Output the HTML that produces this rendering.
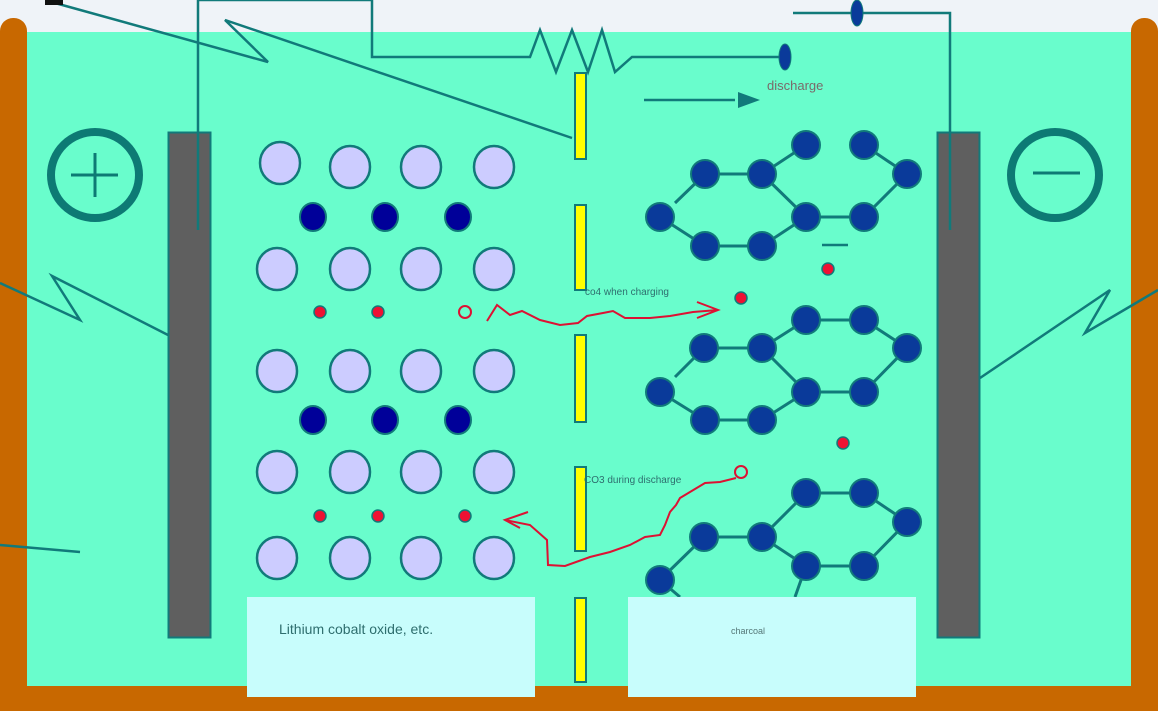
<!DOCTYPE html>
<html><head><meta charset="utf-8"><style>html,body{margin:0;padding:0;background:#eff3f8}svg{display:block}</style></head>
<body>
<svg width="1158" height="711" viewBox="0 0 1158 711" xmlns="http://www.w3.org/2000/svg" font-family="Liberation Sans, sans-serif">
<rect x="0" y="0" width="1158" height="711" fill="#eff3f8"/>
<rect x="0" y="32" width="1158" height="679" fill="#69fdcc"/>
<!-- container walls -->
<rect x="0" y="18" width="27" height="693" rx="13" fill="#c86800"/>
<rect x="1131" y="18" width="27" height="693" rx="13" fill="#c86800"/>
<rect x="0" y="686" width="1158" height="25" fill="#c86800"/>
<!-- boxes -->
<rect x="247" y="597" width="288" height="100" fill="#c8fdfc"/>
<rect x="628" y="597" width="288" height="100" fill="#c8fdfc"/>
<text x="279" y="634" font-size="14" fill="#2e6e6e">Lithium cobalt oxide, etc.</text>
<text x="731" y="634" font-size="9" fill="#557777">charcoal</text>
<!-- electrodes -->
<rect x="168.5" y="132.5" width="42" height="505" fill="#5f5f5f" stroke="#117a7a" stroke-width="2"/>
<rect x="937.5" y="132.5" width="42" height="505" fill="#5f5f5f" stroke="#117a7a" stroke-width="2"/>
<!-- plus/minus -->
<g stroke="#0d7a74" fill="none">
<ellipse cx="95" cy="175" rx="44" ry="43" stroke-width="8"/>
<line x1="71" y1="175" x2="118" y2="175" stroke-width="3"/>
<line x1="95" y1="153" x2="95" y2="197" stroke-width="3"/>
<ellipse cx="1055" cy="175" rx="44" ry="43" stroke-width="8"/>
<line x1="1033" y1="173" x2="1080" y2="173" stroke-width="3"/>
</g>
<!-- wires -->
<g stroke="#117a7a" stroke-width="2.5" fill="none">
<polyline points="198,230 198,0 372,0 372,57 530,57 540,30 556,72 572,30 588,72 602,30 615,72 632,57 785,57"/>
<polyline points="793,13 950,13 950,230"/>
<polyline points="55,3 268,62 225,20 572,138"/>
<polyline points="0,283 80,320 52,276 168,335"/>
<polyline points="980,378 1110,290 1085,333 1158,290"/>
<line x1="0" y1="545" x2="80" y2="552"/>
<line x1="644" y1="100" x2="735" y2="100"/>
<line x1="822" y1="245" x2="848" y2="245"/>
</g>
<polygon points="760,100 738,92 738,108" fill="#117a7a"/>
<rect x="45" y="0" width="18" height="5" fill="#111"/>
<ellipse cx="785" cy="57" rx="6" ry="13" fill="#0a3a9a" stroke="#117a7a"/>
<ellipse cx="857" cy="13" rx="6" ry="13" fill="#0a3a9a" stroke="#117a7a"/>
<text x="767" y="90" font-size="13" fill="#7a6a6a">discharge</text>
<!-- separators -->
<g fill="#ffff00" stroke="#117a7a" stroke-width="2">
<rect x="575" y="73" width="11" height="86"/>
<rect x="575" y="205" width="11" height="85"/>
<rect x="575" y="335" width="11" height="87"/>
<rect x="575" y="467" width="11" height="84"/>
<rect x="575" y="598" width="11" height="84"/>
</g>
<!-- lattice -->
<g fill="#ccccff" stroke="#117a7a" stroke-width="2.5">
<ellipse cx="280" cy="163" rx="20" ry="21"/><ellipse cx="350" cy="167" rx="20" ry="21"/><ellipse cx="421" cy="167" rx="20" ry="21"/><ellipse cx="494" cy="167" rx="20" ry="21"/>
<ellipse cx="277" cy="269" rx="20" ry="21"/><ellipse cx="350" cy="269" rx="20" ry="21"/><ellipse cx="421" cy="269" rx="20" ry="21"/><ellipse cx="494" cy="269" rx="20" ry="21"/>
<ellipse cx="277" cy="371" rx="20" ry="21"/><ellipse cx="350" cy="371" rx="20" ry="21"/><ellipse cx="421" cy="371" rx="20" ry="21"/><ellipse cx="494" cy="371" rx="20" ry="21"/>
<ellipse cx="277" cy="472" rx="20" ry="21"/><ellipse cx="350" cy="472" rx="20" ry="21"/><ellipse cx="421" cy="472" rx="20" ry="21"/><ellipse cx="494" cy="472" rx="20" ry="21"/>
<ellipse cx="277" cy="558" rx="20" ry="21"/><ellipse cx="350" cy="558" rx="20" ry="21"/><ellipse cx="421" cy="558" rx="20" ry="21"/><ellipse cx="494" cy="558" rx="20" ry="21"/>
</g>
<g fill="#000099" stroke="#117a7a" stroke-width="2">
<ellipse cx="313" cy="217" rx="13" ry="14"/><ellipse cx="385" cy="217" rx="13" ry="14"/><ellipse cx="458" cy="217" rx="13" ry="14"/>
<ellipse cx="313" cy="420" rx="13" ry="14"/><ellipse cx="385" cy="420" rx="13" ry="14"/><ellipse cx="458" cy="420" rx="13" ry="14"/>
</g>
<g fill="#ee1133" stroke="#117a7a" stroke-width="1.5">
<circle cx="320" cy="312" r="6"/><circle cx="378" cy="312" r="6"/>
<circle cx="320" cy="516" r="6"/><circle cx="378" cy="516" r="6"/><circle cx="465" cy="516" r="6"/>
<circle cx="741" cy="298" r="6"/><circle cx="828" cy="269" r="6"/><circle cx="843" cy="443" r="6"/>
</g>
<g fill="none" stroke="#dd1133" stroke-width="2">
<circle cx="465" cy="312" r="6"/>
<circle cx="741" cy="472" r="6"/>
<polyline points="487,321 497,305 510,315 522,311 540,320 560,325 578,323 587,316 603,313 613,311 625,318 650,318 670,316 693,312 718,310"/>
<polyline points="697,302 718,310 697,318"/>
<polyline points="736,478 720,482 705,483 700,486 690,492 680,498 676,505 670,512 665,525 660,535 645,537 630,545 610,552 590,557 565,566 548,565 547,540 530,525 505,520"/>
<polyline points="528,512 505,520 520,528"/>
</g>
<g font-size="10" fill="#2e6e6e">
<text x="585" y="295">co4 when charging</text>
<text x="584" y="483">CO3 during discharge</text>
</g>
<!-- hex groups -->
<g stroke="#117a7a" stroke-width="3" fill="none">
<polyline points="675,203 705,174 762,174 806,145"/><polyline points="762,174 806,217 864,217 907,174 864,145"/><polyline points="660,217 705,246 762,246 806,217"/>
<polyline points="675,377 704,348 762,348 806,320 864,320 907,348 864,392 806,392 762,348"/><polyline points="660,392 705,420 762,420 806,392"/>
<polyline points="660,580 704,537 762,537 806,493 864,493 907,522 864,566 806,566 762,537"/><line x1="806" y1="566" x2="795" y2="597"/><line x1="660" y1="580" x2="680" y2="597"/>
</g>
<g fill="#0a3a9a" stroke="#117a7a" stroke-width="2">
<circle cx="660" cy="217" r="14"/><circle cx="705" cy="174" r="14"/><circle cx="762" cy="174" r="14"/><circle cx="806" cy="145" r="14"/><circle cx="864" cy="145" r="14"/><circle cx="907" cy="174" r="14"/><circle cx="806" cy="217" r="14"/><circle cx="864" cy="217" r="14"/><circle cx="705" cy="246" r="14"/><circle cx="762" cy="246" r="14"/>
<circle cx="660" cy="392" r="14"/><circle cx="704" cy="348" r="14"/><circle cx="762" cy="348" r="14"/><circle cx="806" cy="320" r="14"/><circle cx="864" cy="320" r="14"/><circle cx="907" cy="348" r="14"/><circle cx="806" cy="392" r="14"/><circle cx="864" cy="392" r="14"/><circle cx="705" cy="420" r="14"/><circle cx="762" cy="420" r="14"/>
<circle cx="806" cy="493" r="14"/><circle cx="864" cy="493" r="14"/><circle cx="907" cy="522" r="14"/><circle cx="704" cy="537" r="14"/><circle cx="762" cy="537" r="14"/><circle cx="806" cy="566" r="14"/><circle cx="864" cy="566" r="14"/><circle cx="660" cy="580" r="14"/>
</g>
<rect x="628" y="597" width="288" height="3" fill="#c8fdfc"/>
</svg>
</body></html>
